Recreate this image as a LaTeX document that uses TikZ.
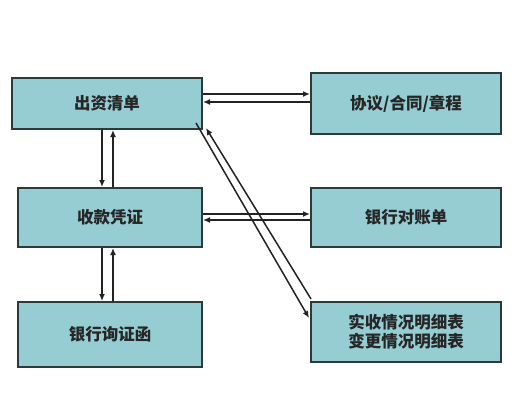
\documentclass[tikz,border=0pt]{standalone}
\usepackage{fontspec}
\newfontfamily\cjk{Noto Sans CJK SC}
\usetikzlibrary{arrows.meta,calc}
\definecolor{boxfill}{HTML}{95CDD2}
\definecolor{boxline}{HTML}{2B3A3A}
\definecolor{arrline}{HTML}{222222}
\begin{document}
\begin{tikzpicture}[x=1pt,y=-1pt,
  box/.style={draw=boxline,fill=boxfill,line width=2pt,inner sep=0pt,
    font=\cjk\bfseries\fontsize{16.5}{19}\selectfont,text=black!85,align=center},
  conn/.style={draw=arrline,line width=1.5pt,-{Latex[length=7pt,width=6pt]}}]
\useasboundingbox (0,0) rectangle (520,415);
\node[box,minimum width=190pt,minimum height=51pt] (b1) at (107,103.5) {出资清单};
\node[box,minimum width=190pt,minimum height=61pt] (b2) at (406,103.5) {协议/合同/章程};
\node[box,minimum width=184pt,minimum height=59pt] (b3) at (110,217.5) {收款凭证};
\node[box,minimum width=190pt,minimum height=59pt] (b4) at (406,217.5) {银行对账单};
\node[box,minimum width=184pt,minimum height=65pt] (b5) at (110,334.5) {银行询证函};
\node[box,minimum width=190pt,minimum height=60pt] (b6) at (406,332) {实收情况明细表\\变更情况明细表};
% horizontal
\draw[conn] ($(b1.east)+(0,-9.5)$) -- ($(b2.west)+(0,-9.5)$);
\draw[conn] ($(b2.west)+(0,-1.5)$) -- ($(b1.east)+(0,-1.5)$);
\draw[conn] ($(b3.east)+(0,-3.5)$) -- ($(b4.west)+(0,-3.5)$);
\draw[conn] ($(b4.west)+(0,2.5)$) -- ($(b3.east)+(0,2.5)$);
% vertical
\draw[conn] (b1.south -| 102,0) -- (b3.north -| 102,0);
\draw[conn] (b3.north -| 113,0) -- (b1.south -| 113,0);
\draw[conn] (b3.south -| 102,0) -- (b5.north -| 102,0);
\draw[conn] (b5.north -| 113,0) -- (b3.south -| 113,0);
% diagonal
\draw[conn] ($(b1.south east)+(-7,-7)$) -- ($(b6.north west)+(-1,17)$);
\draw[conn] ($(b6.north west)+(1,-2)$) -- ($(b1.south east)+(3,-2)$);
\end{tikzpicture}
\end{document}
